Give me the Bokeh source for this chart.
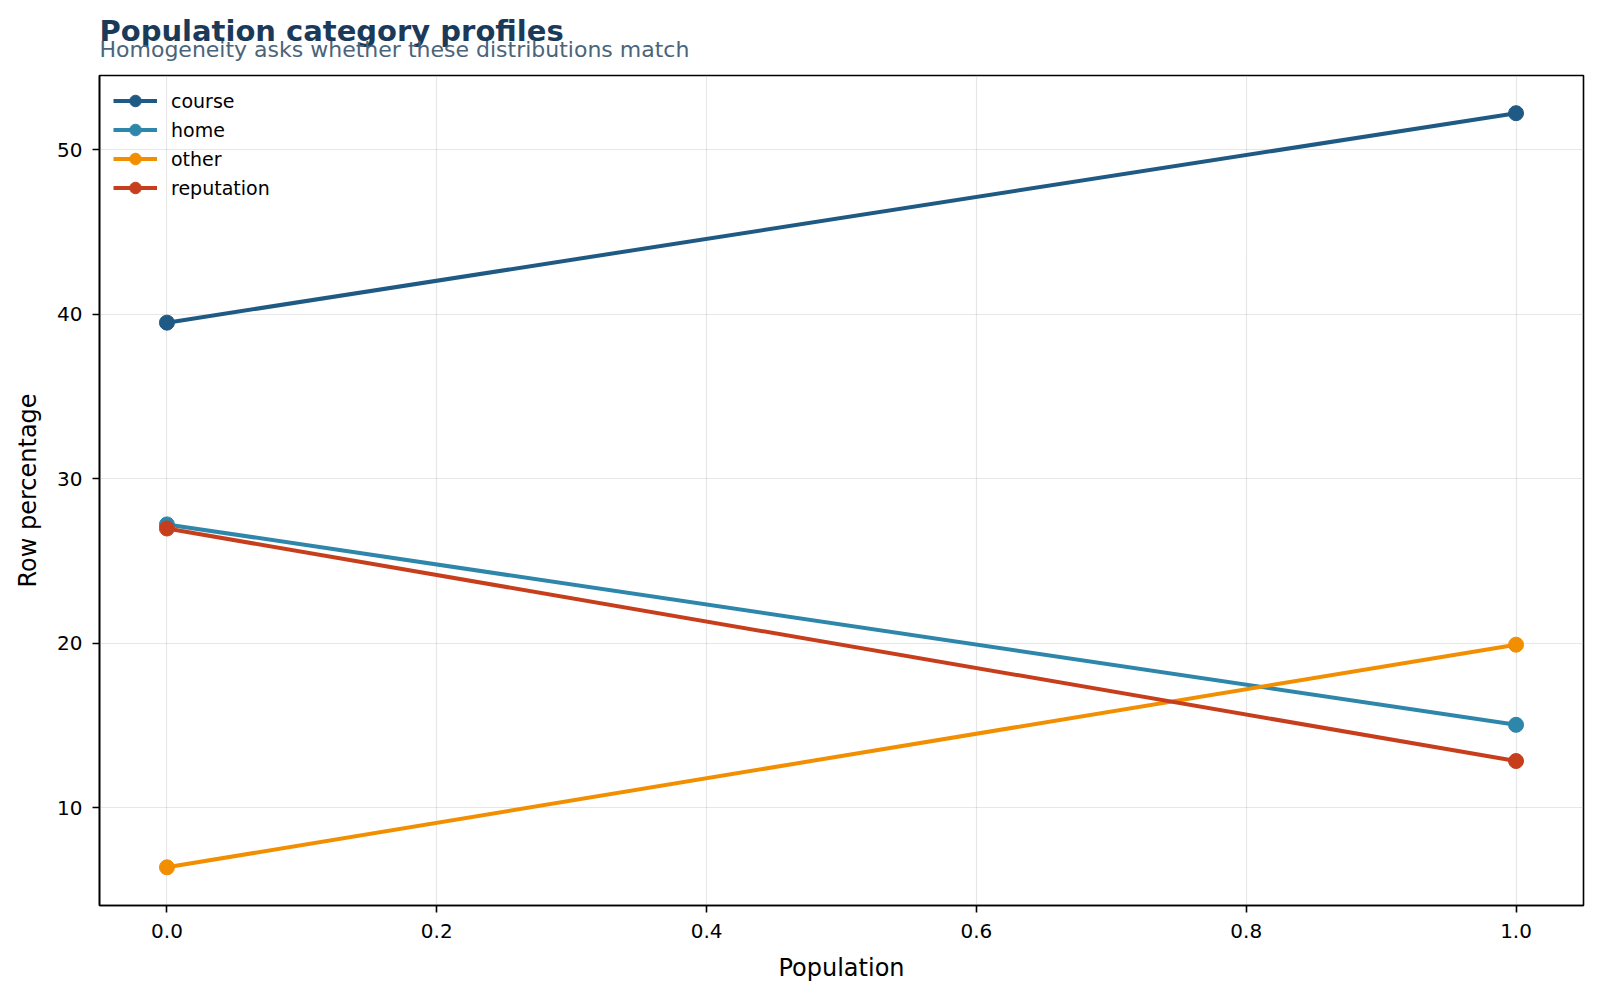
from bokeh.plotting import figure
from bokeh.layouts import column
from bokeh.models import Range1d, FixedTicker, PrintfTickFormatter
from bokeh.core.properties import value
from bokeh.embed import file_html
from bokeh.resources import INLINE

populations = [0.0, 1.0]
course = [39.48, 52.21]
home = [27.22, 15.04]
other = [6.38, 19.91]
reputation = [26.97, 12.84]
series_names = ["course", "home", "other", "reputation"]
series_values = [course, home, other, reputation]
colors = ["#1f5a84", "#2e86ab", "#f18f01", "#c73e1d"]
x_ticks = [0.0, 0.2, 0.4, 0.6, 0.8, 1.0]
y_ticks = [10, 20, 30, 40, 50]
title_text = "Population category profiles"
subtitle_text = "Homogeneity asks whether these distributions match"

FONT = "DejaVu Sans"
W, TOP_H, MAIN_H = 1600, 74, 924
LEFT, RIGHT = 99, 17

# ---- header strip (title + subtitle); its frame lines up with the chart frame ----
head = figure(width=W, height=TOP_H, output_backend="svg", toolbar_location=None,
              title=None,
              x_range=Range1d(0, W - LEFT - RIGHT), y_range=Range1d(0, TOP_H),
              x_axis_type=None, y_axis_type=None,
              min_border_left=LEFT, min_border_right=RIGHT, min_border_top=0, min_border_bottom=0)
head.outline_line_color = None
head.grid.visible = False
head.text(x=[0], y=[TOP_H - 30], text=[title_text], text_font=value(FONT),
          text_font_size="29px", text_font_style="bold", text_color="#1b3a5a",
          text_baseline="alphabetic", text_align="left")
head.text(x=[0], y=[TOP_H - 48.5], text=[subtitle_text], text_font=value(FONT),
          text_font_size="22px", text_font_style="normal", text_color="#4b6479",
          text_baseline="alphabetic", text_align="left")

# ---- main chart ----
p = figure(width=W, height=MAIN_H, output_backend="svg", toolbar_location=None,
           x_range=Range1d(-0.05, 1.05), y_range=Range1d(4.06, 54.5),
           min_border_left=LEFT, min_border_right=RIGHT, min_border_bottom=93, min_border_top=1)

for name, vals, c in zip(series_names, series_values, colors):
    p.line(populations, vals, line_color=c, line_width=4, legend_label=name)
    p.scatter(populations, vals, marker="circle", size=15, fill_color=c, line_color=c, legend_label=name)

p.xaxis.ticker = FixedTicker(ticks=x_ticks)
p.xaxis.formatter = PrintfTickFormatter(format="%.1f")
p.yaxis.ticker = FixedTicker(ticks=y_ticks)

p.xaxis.axis_label = "Population"
p.yaxis.axis_label = "Row percentage"
for ax in (p.xaxis[0], p.yaxis[0]):
    ax.axis_label_text_font = FONT
    ax.axis_label_text_font_size = "24px"
    ax.axis_label_text_font_style = "normal"
    ax.axis_label_text_color = "#000000"
    ax.major_label_text_font = FONT
    ax.major_label_text_font_size = "20px"
    ax.major_label_text_color = "#000000"
    ax.major_tick_out = 7
    ax.major_tick_in = 0
    ax.minor_tick_out = 0
    ax.minor_tick_in = 0
    ax.major_tick_line_width = 1.6
    ax.major_tick_line_color = "#000000"
    ax.axis_line_color = "#000000"
    ax.axis_line_width = 1.6
p.xaxis.major_label_standoff = 11
p.xaxis.axis_label_standoff = 13
p.yaxis.major_label_standoff = 10
p.yaxis.axis_label_standoff = 12

p.outline_line_color = "#000000"
p.outline_line_width = 1.6
p.grid.grid_line_color = "#b0b0b0"
p.grid.grid_line_alpha = 0.3
p.grid.grid_line_width = 1.2

leg = p.legend[0]
leg.location = (14, 703)
leg.margin = 0
leg.padding = 0
leg.glyph_width = 44
leg.glyph_height = 29
leg.spacing = 0
leg.label_standoff = 14
leg.label_text_font = FONT
leg.label_text_font_size = "19px"
leg.label_text_color = "#000000"
leg.background_fill_alpha = 0
leg.border_line_alpha = 0

layout = column(head, p, spacing=0)
open("out.html", "w").write(file_html(layout, INLINE))
